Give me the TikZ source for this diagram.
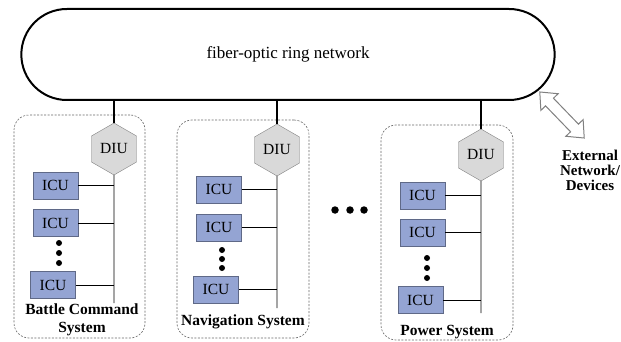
\documentclass[tikz,border=0pt]{standalone}
\usepackage{fontspec}
\setmainfont{Liberation Serif}
\usetikzlibrary{shapes.geometric,shapes.misc}
\definecolor{diufill}{RGB}{217,217,217}
\definecolor{diuline}{RGB}{128,128,128}
\definecolor{icufill}{RGB}{148,164,211}
\definecolor{iculine}{RGB}{95,105,135}

\begin{document}
\begin{tikzpicture}[x=1pt, y=-1pt,
    ringnet/.style={draw, line width=2pt, rounded rectangle, minimum width=540pt,
      minimum height=91pt, font=\fontsize{17}{20}\selectfont},
    diu/.style={draw=diuline, fill=diufill, regular polygon, regular polygon sides=6,
      shape border rotate=30, minimum size=52pt, inner sep=0pt, font=\fontsize{15.5}{18}\selectfont},
    icu/.style={draw=iculine, line width=0.9pt, fill=icufill, minimum width=45pt,
      minimum height=27pt, inner sep=0pt, font=\fontsize{15.5}{18}\selectfont},
    subsys/.style={draw=black!60, line width=0.6pt, dash pattern=on 2pt off 1.5pt,
      rounded corners=15pt, inner sep=0pt},
    sublabel/.style={align=center, inner sep=0pt, font=\fontsize{15.5}{18}\bfseries},
    dot/.style={circle, fill, inner sep=0pt, minimum size=6pt},
    bigdot/.style={circle, fill, inner sep=0pt, minimum size=7.5pt},
    blockarrow/.style={draw=diuline, line width=1pt, fill=white, line join=miter},
    drop/.style={line width=1.6pt},
    bus/.style={line width=0.9pt}]
    \useasboundingbox (0,0) rectangle (621,342);
    \node[ringnet] (ring) at (288, 54.5) {fiber-optic ring network};

    \node[subsys, minimum width=131pt, minimum height=223pt] (box1) at (79.5, 226.5) {};
    \node[subsys, minimum width=132pt, minimum height=218pt] (box2) at (243, 229) {};
    \node[subsys, minimum width=132pt, minimum height=215pt] (box3) at (447, 232.5) {};

    \node[diu] (diu1) at (114, 149) {DIU};
    \node[diu] (diu2) at (277, 150) {DIU};
    \node[diu] (diu3) at (481, 155) {DIU};
    \coordinate (end1) at (114, 303);
    \coordinate (end2) at (277, 308);
    \coordinate (end3) at (481, 313);

    \node[icu] (icu1a) at (55.5, 185.5) {ICU};
    \node[icu] (icu1b) at (55.5, 223) {ICU};
    \node[icu] (icu1c) at (53, 285) {ICU};
    \node[icu] (icu2a) at (219, 189.5) {ICU};
    \node[icu] (icu2b) at (219, 227.5) {ICU};
    \node[icu] (icu2c) at (216, 289.5) {ICU};
    \node[icu] (icu3a) at (422.5, 195.5) {ICU};
    \node[icu] (icu3b) at (422.5, 232.5) {ICU};
    \node[icu] (icu3c) at (420.5, 300) {ICU};

    \node[dot] (d1a) at (59, 243) {};
    \node[dot] (d1b) at (59, 253) {};
    \node[dot] (d1c) at (59, 263) {};
    \node[dot] (d2a) at (222, 250) {};
    \node[dot] (d2b) at (222, 259) {};
    \node[dot] (d2c) at (222, 268) {};
    \node[dot] (d3a) at (427, 258) {};
    \node[dot] (d3b) at (427, 268) {};
    \node[dot] (d3c) at (427, 278) {};

    \node[bigdot] (more1) at (335, 210) {};
    \node[bigdot] (more2) at (350, 210) {};
    \node[bigdot] (more3) at (364, 210) {};

    \node[sublabel] (lbl1) at (82, 320) {Battle Command\\System};
    \node[sublabel] (lbl2) at (243, 322) {Navigation System};
    \node[sublabel] (lbl3) at (447, 332) {Power System};

    \begin{scope}[shift={(562, 115)}, rotate=-46]
      \draw [blockarrow] (-32, 0) -- (-18, 12) -- (-18, 5.5) -- (18, 5.5) -- (18, 12)
        -- (32, 0) -- (18, -12) -- (18, -5.5) -- (-18, -5.5) -- (-18, -12) -- cycle;
    \end{scope}
    \node[align=center, font=\fontsize{15}{15}\bfseries] (ext) at (590, 170) {External\\Network/\\Devices};

    \draw [drop] (ring.south -| diu1.north) to (diu1.north);
    \draw [drop] (ring.south -| diu2.north) to (diu2.north);
    \draw [drop] (ring.south -| diu3.north) to (diu3.north);
    \draw [bus] (diu1.south) to (end1);
    \draw [bus] (diu2.south) to (end2);
    \draw [bus] (diu3.south) to (end3);
    \draw [bus] (icu1a) to (icu1a -| end1);
    \draw [bus] (icu1b) to (icu1b -| end1);
    \draw [bus] (icu1c) to (icu1c -| end1);
    \draw [bus] (icu2a) to (icu2a -| end2);
    \draw [bus] (icu2b) to (icu2b -| end2);
    \draw [bus] (icu2c) to (icu2c -| end2);
    \draw [bus] (icu3a) to (icu3a -| end3);
    \draw [bus] (icu3b) to (icu3b -| end3);
    \draw [bus] (icu3c) to (icu3c -| end3);
\end{tikzpicture}
\end{document}
